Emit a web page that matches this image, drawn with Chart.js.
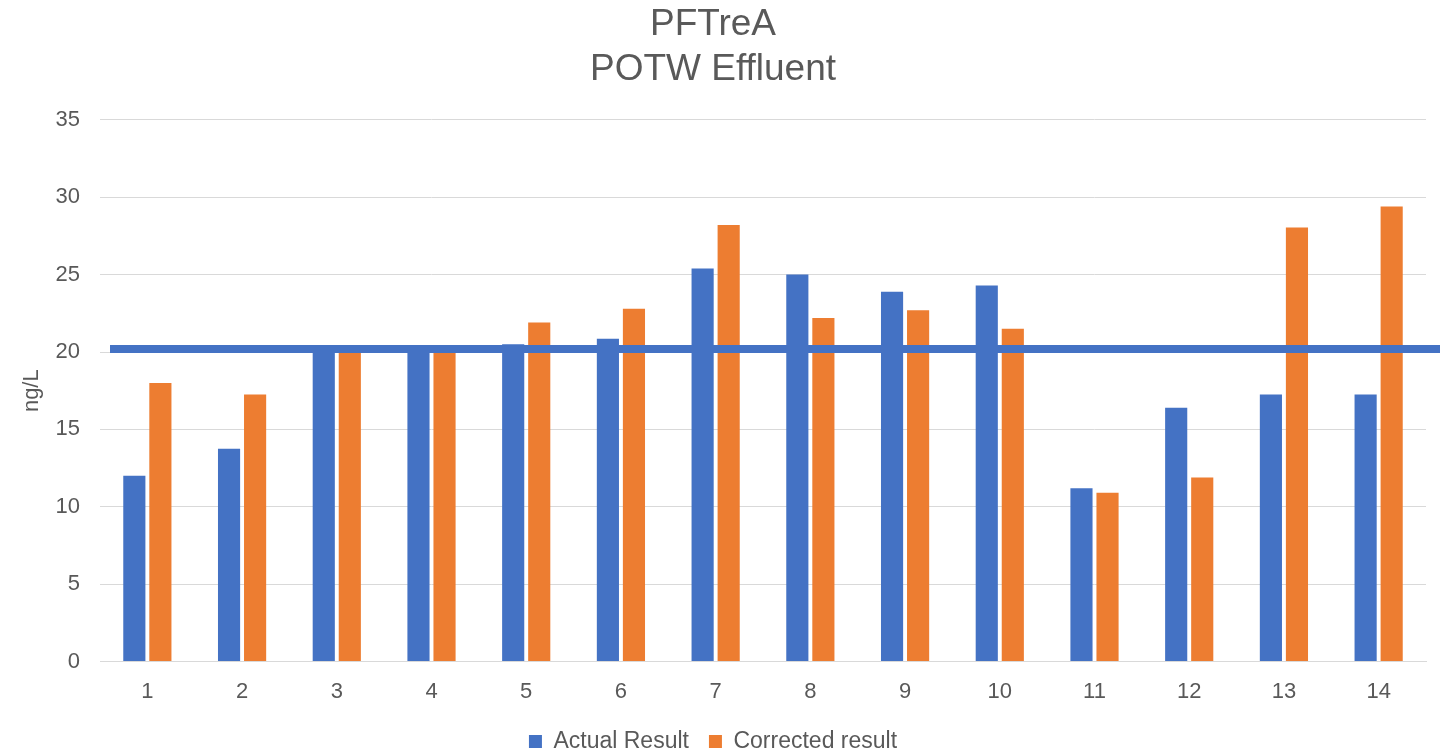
<!DOCTYPE html>
<html>
<head>
<meta charset="utf-8">
<script src="https://cdn.jsdelivr.net/npm/chart.js@4"></script>
<style>
  html, body { margin: 0; padding: 0; background: #fff; }
  #wrap { width: 1440px; height: 754px; }
</style>
</head>
<body>
<div id="wrap"><canvas id="chart"></canvas></div>
<script>
// data
const samples = ['1', '2', '3', '4', '5', '6', '7', '8', '9', '10', '11', '12', '13', '14'];
const actualResult = [12.0, 13.75, 20.0, 20.0, 20.5, 20.85, 25.4, 25.0, 23.9, 24.3, 11.2, 16.4, 17.25, 17.25];
const correctedResult = [18.0, 17.25, 20.0, 20.0, 21.9, 22.8, 28.2, 22.2, 22.7, 21.5, 10.9, 11.9, 28.05, 29.4];
const limitValue = 20.2; // horizontal reference line
const yTicks = [0, 5, 10, 15, 20, 25, 30, 35];

const textColor = '#595959';
const blue = '#4472C4';
const orange = '#ED7D31';

Chart.defaults.font.family = '"Liberation Sans", Arial, sans-serif';
Chart.defaults.color = textColor;

// thick blue line across the chart, to the right edge of the canvas
const limitLine = {
    id: 'limitLine',
    afterDatasetsDraw(chart) {
        const y = chart.scales.y.getPixelForValue(limitValue);
        const ctx = chart.ctx;
        ctx.save();
        ctx.strokeStyle = blue;
        ctx.lineWidth = 8;
        ctx.beginPath();
        ctx.moveTo(chart.chartArea.left + 10, y);
        ctx.lineTo(chart.width, y);
        ctx.stroke();
        ctx.restore();
    }
};

const ctx = document.getElementById('chart').getContext('2d');
new Chart(ctx, {
    type: 'bar',
    data: {
        labels: samples,
        datasets: [
            {
                label: 'Actual Result',
                data: actualResult,
                backgroundColor: blue,
                categoryPercentage: 0.55,
                barPercentage: 0.85
            },
            {
                label: 'Corrected result',
                data: correctedResult,
                backgroundColor: orange,
                categoryPercentage: 0.55,
                barPercentage: 0.85
            }
        ]
    },
    options: {
        responsive: true,
        maintainAspectRatio: false,
        animation: false,
        layout: {
            padding: { left: 0, right: 14, top: 0, bottom: -9 }
        },
        scales: {
            x: {
                afterFit: (scale) => { scale.height = scale.height - 12; },
                grid: { display: false, drawTicks: false },
                border: { color: '#D9D9D9', width: 1 },
                ticks: { font: { size: 22 }, color: textColor, padding: 17 }
            },
            y: {
                min: 0,
                max: 35,
                afterBuildTicks: (scale) => {
                    scale.ticks = yTicks.map(v => ({ value: v }));
                },
                afterFit: (scale) => { scale.width = 100; },
                grid: { color: '#D9D9D9', lineWidth: 1, drawTicks: false },
                border: { display: false },
                ticks: { font: { size: 22 }, color: textColor, padding: 20 },
                title: {
                    display: true,
                    text: 'ng/L',
                    font: { size: 22 },
                    color: textColor,
                    padding: { top: 19, bottom: 0 }
                }
            }
        },
        plugins: {
            title: {
                display: true,
                text: ['PFTreA', 'POTW Effluent'],
                font: { size: 37, weight: 'normal' },
                color: textColor,
                lineHeight: 1.25,
                padding: { top: 3, bottom: 28 }
            },
            legend: {
                position: 'bottom',
                labels: {
                    font: { size: 23 },
                    color: textColor,
                    boxWidth: 13,
                    boxHeight: 13,
                    padding: 20
                }
            },
            tooltip: { enabled: false }
        }
    },
    plugins: [limitLine]
});
</script>
</body>
</html>
